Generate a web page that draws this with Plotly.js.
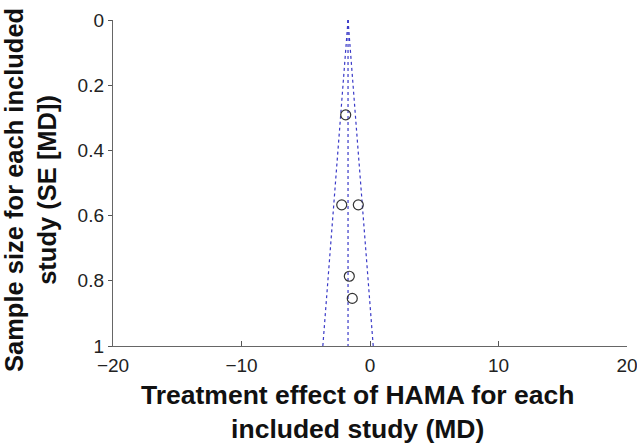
<!DOCTYPE html>
<html>
<head>
<meta charset="utf-8">
<script src="https://cdn.plot.ly/plotly-3.0.1.min.js"></script>
<style>html,body{margin:0;padding:0;background:#fff;}#chart{width:637px;height:444px;}</style>
</head>
<body>
<div id="chart"></div>
<script>
// Study effects (MD) and standard errors
const studyMD = [-1.89, -2.20, -0.91, -1.61, -1.38];
const studySE = [0.291, 0.567, 0.567, 0.786, 0.854];
// Pooled effect and funnel limits (SE range)
const pooledMD = -1.71;
const seRange = [0, 1];
const z = 1.96;
const xTicks = [-20, -10, 0, 10, 20];
const yTicks = [0, 0.2, 0.4, 0.6, 0.8, 1];
const xTitle = '<b>Treatment effect of HAMA for each<br>included study (MD)</b>';
const yTitle = '<b>Sample size for each included<br>study (SE [MD])</b>';

const funnelLeftX = seRange.map(s => pooledMD - z * s);
const funnelRightX = seRange.map(s => pooledMD + z * s);
const centerX = seRange.map(() => pooledMD);

const lineStyle = {color: '#3a3ac8', width: 1.2, dash: '3px,3px'};
const traces = [
  {x: funnelLeftX, y: seRange, mode: 'lines', line: lineStyle, hoverinfo: 'skip'},
  {x: centerX, y: seRange, mode: 'lines', line: lineStyle, hoverinfo: 'skip'},
  {x: funnelRightX, y: seRange, mode: 'lines', line: lineStyle, hoverinfo: 'skip'},
  {x: studyMD, y: studySE, mode: 'markers',
   marker: {symbol: 'circle-open', size: 10, color: '#333', line: {width: 1.2, color: '#333'}}}
];

const layout = {
  width: 637, height: 444,
  margin: {l: 113, r: 10, t: 20, b: 98},
  showlegend: false,
  paper_bgcolor: '#fff', plot_bgcolor: '#fff',
  font: {family: 'Liberation Sans, Arial, sans-serif', color: '#222'},
  xaxis: {
    range: [-20, 20], tickvals: xTicks, ticks: 'inside', ticklen: 5, tickcolor: '#555',
    showline: true, linecolor: '#666', linewidth: 1.2, showgrid: false, zeroline: false,
    ticklabeloverflow: 'allow', ticklabelstandoff: 2,
    tickfont: {size: 19, color: '#222'}
  },
  yaxis: {
    range: [1, 0], tickvals: yTicks, ticktext: ['0','0.2','0.4','0.6','0.8','1'],
    ticks: 'outside', ticklen: 4, tickcolor: '#555',
    showline: true, linecolor: '#666', linewidth: 1.2, showgrid: false, zeroline: false,
    ticklabeloverflow: 'allow',
    tickfont: {size: 19, color: '#222'}
  },
  annotations: [{
    text: xTitle, xref: 'paper', yref: 'paper', x: 0.475, y: -0.2025,
    xanchor: 'center', yanchor: 'middle', showarrow: false,
    font: {size: 26.5, color: '#111'}
  }, {
    text: yTitle, xref: 'paper', yref: 'paper', x: -0.1615, y: 0.4785,
    xanchor: 'center', yanchor: 'middle', showarrow: false, textangle: -90,
    font: {size: 25.5, color: '#111'}
  }]
};
Plotly.newPlot('chart', traces, layout, {displayModeBar: false, staticPlot: true});
</script>
</body>
</html>
